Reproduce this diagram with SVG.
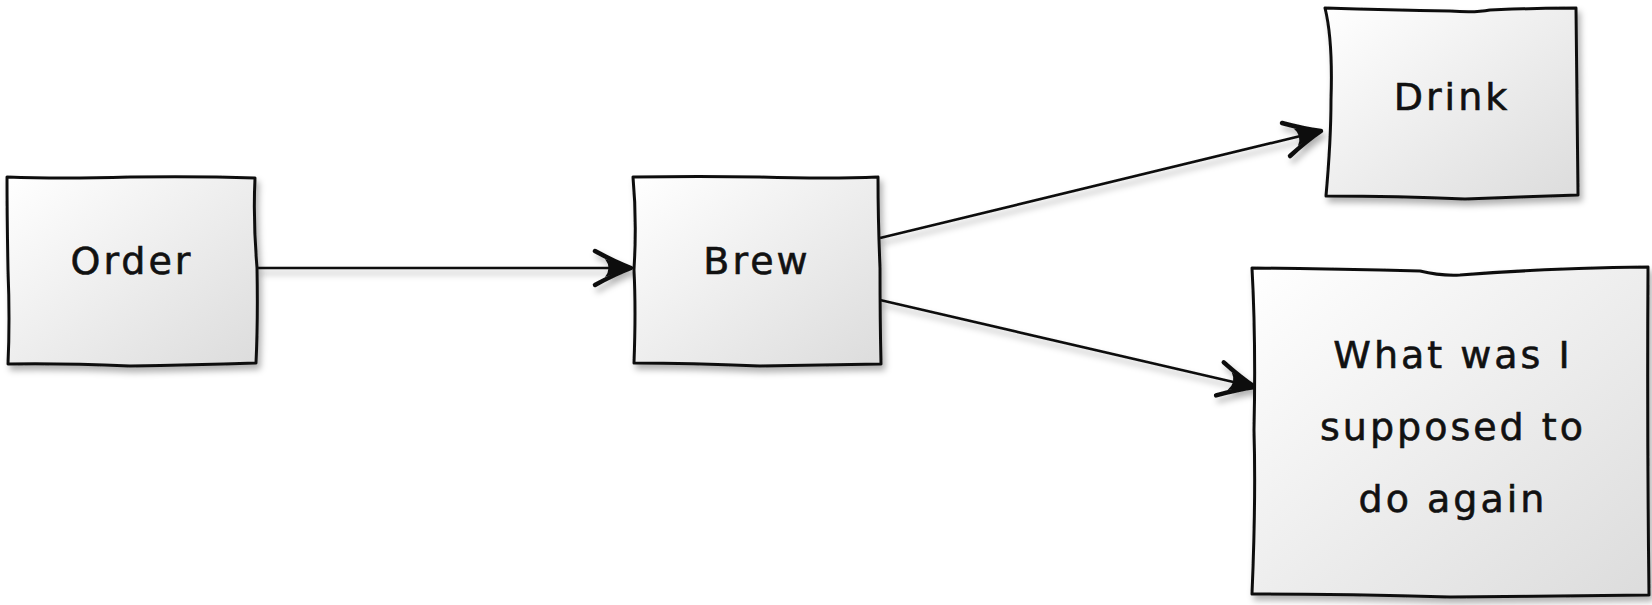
<svg xmlns="http://www.w3.org/2000/svg" width="1652" height="605" viewBox="0 0 1652 605">
<defs>
<linearGradient id="g" x1="0" y1="0" x2="1" y2="1">
<stop offset="0" stop-color="#ffffff"/>
<stop offset="1" stop-color="#dcdcdc"/>
</linearGradient>
<filter id="sh" x="-10%" y="-10%" width="130%" height="130%">
<feDropShadow dx="3" dy="5" stdDeviation="3" flood-color="#000" flood-opacity="0.3"/>
</filter>
<marker id="arr" viewBox="-44 -24 48 48" refX="0" refY="0" markerWidth="48" markerHeight="48" markerUnits="userSpaceOnUse" orient="auto">
<path d="M-36,-17 Q-16,-6 0,0 Q-16,6 -36,17" fill="none" stroke="#111" stroke-width="4.5" stroke-linecap="round" stroke-linejoin="round"/>
<path d="M1,0 L-26,-9 Q-19,0 -26,9 Z" fill="#111"/>
</marker>
</defs>
<style>
.box{fill:url(#g);stroke:#111;stroke-width:3;stroke-linejoin:round;filter:url(#sh)}
.lbl{font-family:"DejaVu Sans","Liberation Sans",sans-serif;font-size:38px;fill:#111;stroke:#111;stroke-width:0.6;text-anchor:middle;letter-spacing:3px}
.edge{fill:none;stroke:#111;stroke-width:2.7;marker-end:url(#arr)}
</style>
<g id="connectors" filter="url(#sh)">
<path class="edge" d="M257,268 L631,268"/>
<path class="edge" d="M880,238 L1321,131"/>
<path class="edge" d="M880,300 L1255,387"/>
</g>
<g id="order">
<path class="box" d="M7,177 Q60,179 130,177 Q200,176 255,178 Q253,220 257,268 Q258,320 256,363 Q190,365 130,366 Q60,363 8,364 Q10,320 8,270 Q7,215 7,177 Z"/>
<text class="lbl" x="132" y="274">Order</text>
</g>
<g id="brew">
<path class="box" d="M633,177 Q700,176 760,177 Q830,179 878,177 Q878,220 880,268 Q880,320 881,364 Q810,365 760,366 Q690,363 634,363 Q636,310 634,270 Q637,220 633,177 Z"/>
<text class="lbl" x="757" y="274">Brew</text>
</g>
<g id="drink">
<path class="box" d="M1325,8 Q1390,10 1450,11 Q1475,13 1490,10 Q1540,8 1576,8 Q1577,100 1578,195 Q1520,197 1465,199 Q1400,196 1326,196 Q1331,140 1331,100 Q1333,40 1325,8 Z"/>
<text class="lbl" x="1452" y="110">Drink</text>
</g>
<g id="question">
<path class="box" d="M1252,268 Q1340,269 1420,271 Q1440,276 1460,275 Q1550,268 1648,267 Q1647,430 1649,595 Q1550,596 1450,597 Q1350,594 1252,594 Q1256,500 1254,430 Q1256,340 1252,268 Z"/>
<text class="lbl" x="1453" y="368">What was I</text>
<text class="lbl" x="1453" y="440">supposed to</text>
<text class="lbl" x="1453" y="512">do again</text>
</g>
</svg>
